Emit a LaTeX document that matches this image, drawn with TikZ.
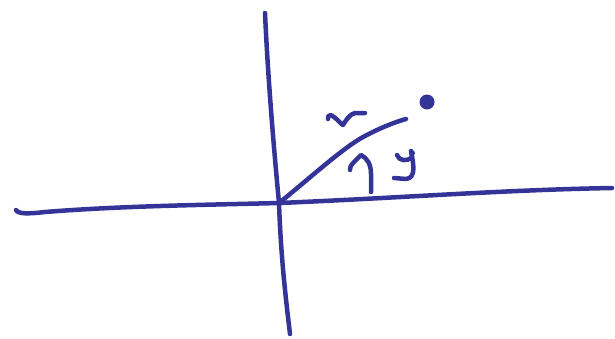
\documentclass[tikz,border=0pt]{standalone}
\definecolor{ink}{RGB}{52,52,152}
\begin{document}
\begin{tikzpicture}[x=1pt,y=-1pt,
  pen/.style={line width=4.5pt, draw=ink, line cap=round, line join=round}]
\useasboundingbox (0,0) rectangle (615,338);
\coordinate (O) at (279,203);
% horizontal axis
\draw[pen] (16,210) .. controls (18,214) and (28,214) .. (45,212)
  .. controls (120,206) and (200,205) .. (O)
  .. controls (400,198) and (500,190) .. (612,188);
% vertical axis
\draw[pen] (265,13) .. controls (268,80) and (274,150) .. (O)
  .. controls (281,260) and (286,300) .. (290,334);
% ray
\coordinate (R) at (406,119);
\draw[pen] (O) .. controls (310,178) and (345,146) .. (365,136)
  .. controls (380,128) and (395,122) .. (R);
% point
\fill[ink] (427,102) circle (7.5pt);
% r label
\draw[pen] (328,119) .. controls (327,115) and (331,114) .. (334,117)
  .. controls (338,120) and (341,124) .. (343,125)
  .. controls (346,120) and (350,114) .. (355,113) -- (365,113);
% angle arc with arrow
\draw[pen] (350,170) .. controls (350,166) and (352,164) .. (354,162)
  -- (361,155) .. controls (367,158) and (371,164) .. (371,174) -- (371,192);
% angle label
\draw[pen] (397,155) .. controls (399,161) and (407,162) .. (412,157);
\draw[pen] (411,151) .. controls (413,162) and (417,178) .. (406,179) -- (394,178);
\fill[ink] (412,153) circle (3pt);
\end{tikzpicture}
\end{document}
